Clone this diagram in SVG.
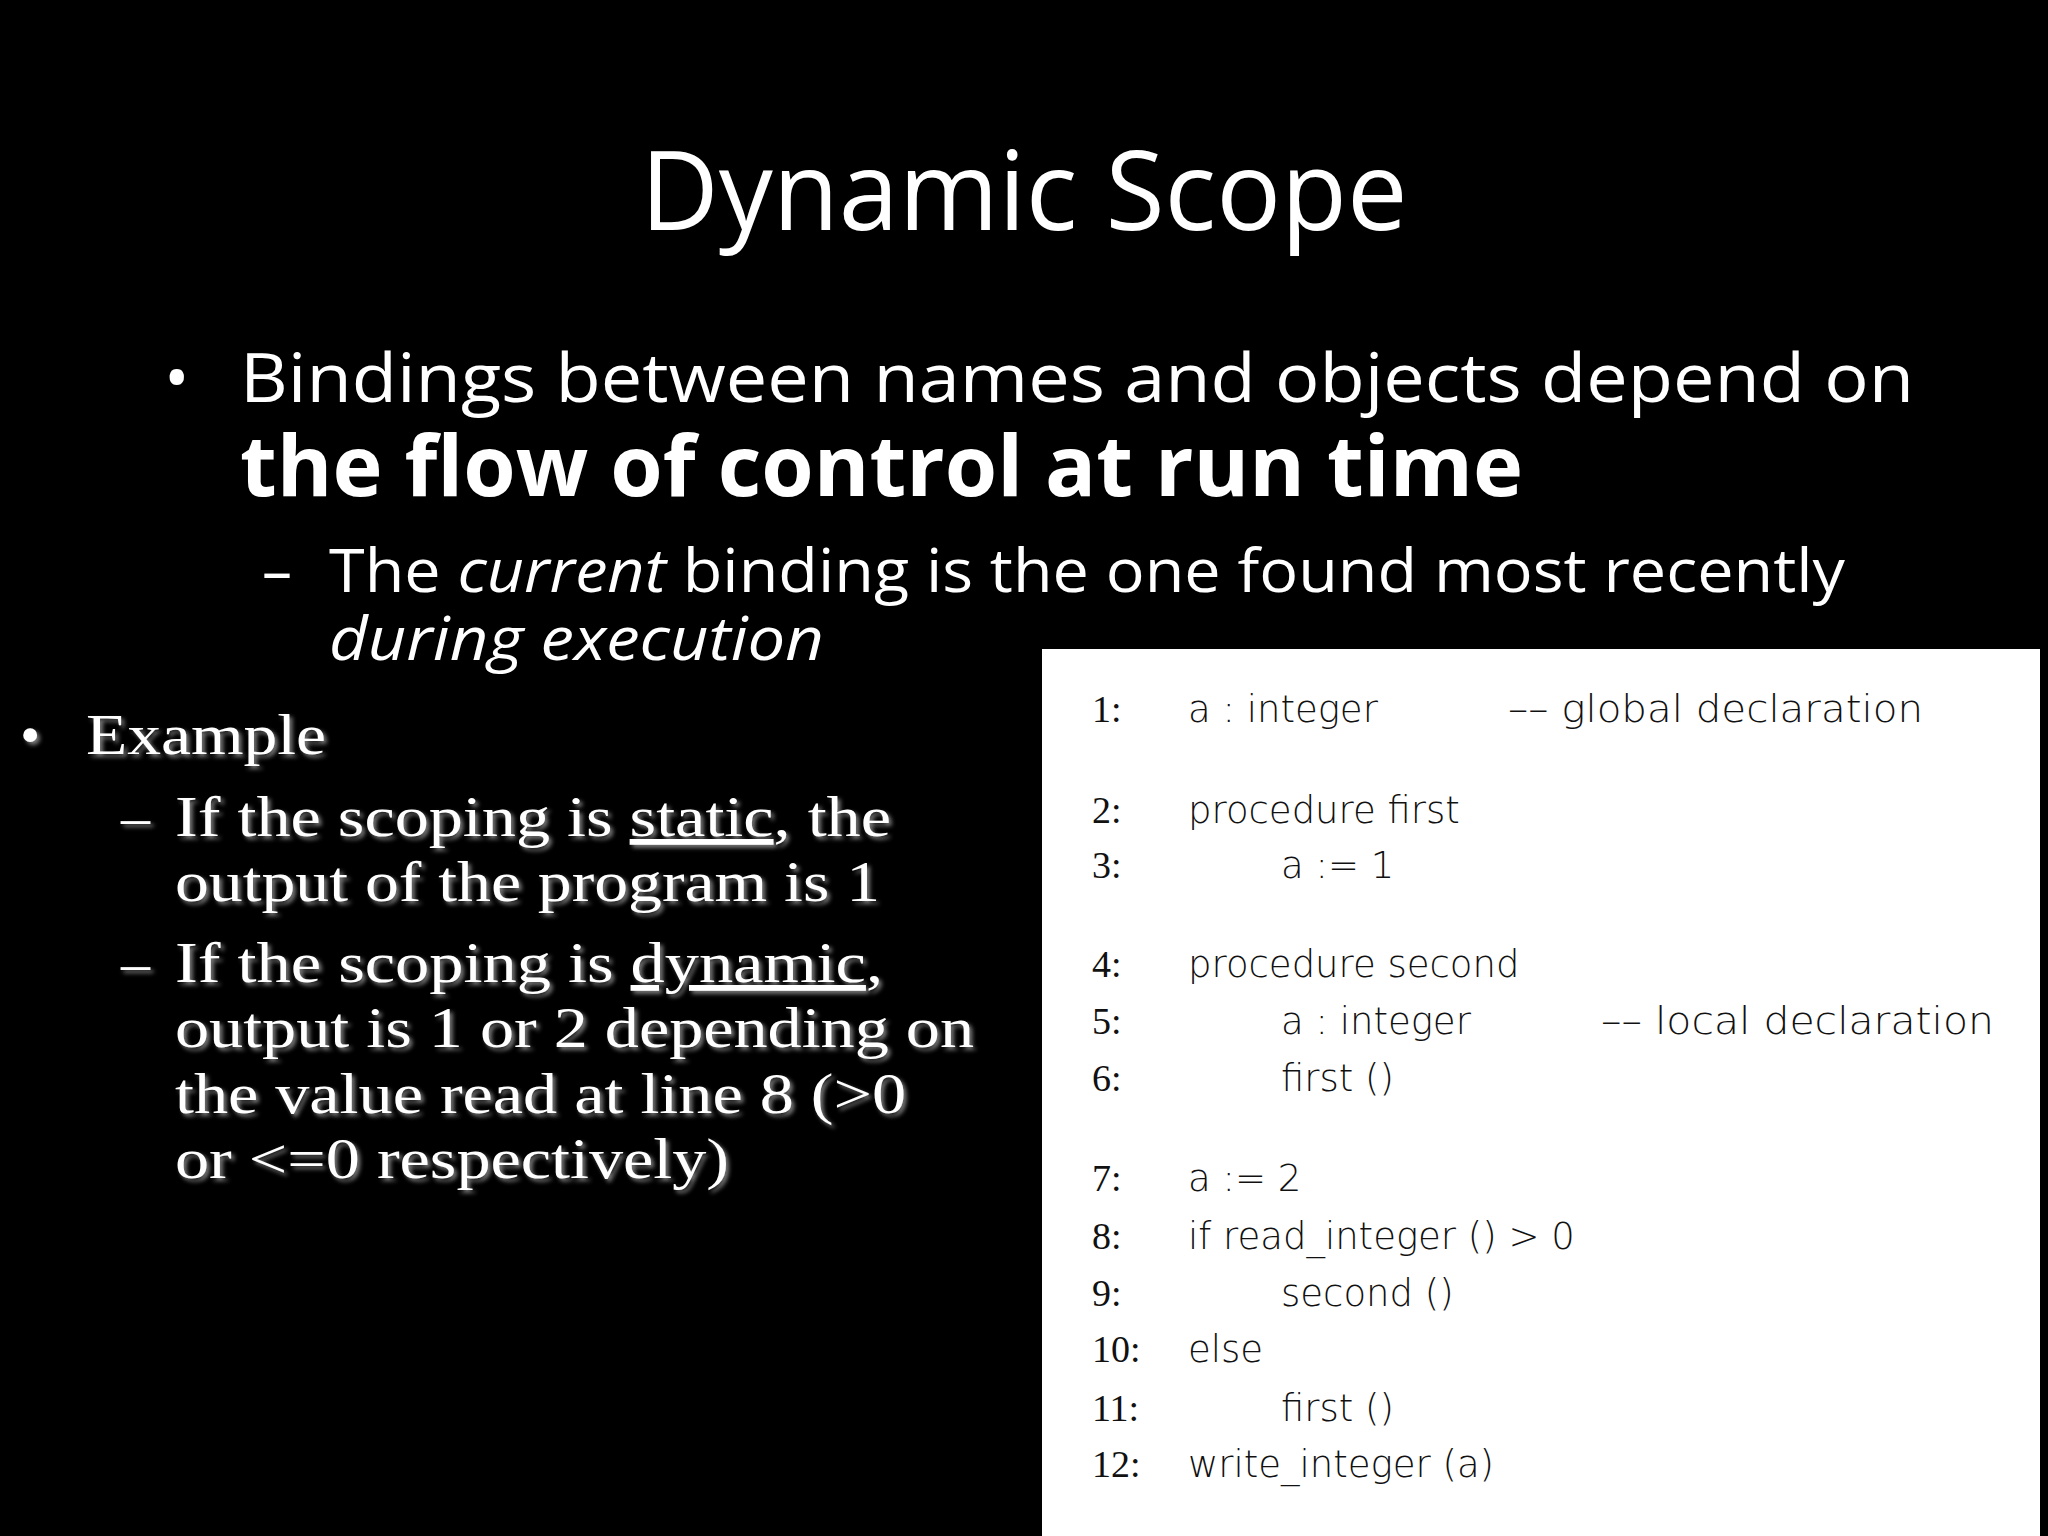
<svg xmlns="http://www.w3.org/2000/svg" width="2048" height="1536" viewBox="0 0 2048 1536">
<defs>
<filter id="sh" x="-5%" y="-20%" width="110%" height="140%"><feDropShadow dx="3" dy="3" stdDeviation="2" flood-color="#888" flood-opacity="0.9"/></filter>
</defs>
<style>
.s{font-family:"Open Sans","Liberation Sans",sans-serif;fill:#fff}
.r{font-family:"Liberation Serif",serif;fill:#fff;font-size:58px}
.n{font-family:"Liberation Serif",serif;font-size:38px;fill:#111}
.c{font-family:"DejaVu Sans","Liberation Sans",sans-serif;font-size:37px;fill:#111;font-weight:300}
</style>
<rect width="2048" height="1536" fill="#000"/>
<g id="title"><text class="s" x="1024" y="230" font-size="110" text-anchor="middle" textLength="767" lengthAdjust="spacingAndGlyphs">Dynamic Scope</text></g>
<g id="bullets">
<text class="s" x="164" y="402" font-size="68">•</text>
<text class="s" x="240" y="402" font-size="68" textLength="1674" lengthAdjust="spacingAndGlyphs">Bindings between names and objects depend on</text>
<text class="s" x="240" y="496" font-size="84" font-weight="bold" textLength="1283" lengthAdjust="spacingAndGlyphs">the flow of control at run time</text>
<text class="s" x="262" y="592" font-size="60">–</text>
<text class="s" x="329" y="592" font-size="60" textLength="1516" lengthAdjust="spacingAndGlyphs">The <tspan font-style="italic">current</tspan> binding is the one found most recently</text>
<text class="s" x="329" y="660" font-size="60" font-style="italic" textLength="495" lengthAdjust="spacingAndGlyphs">during execution</text>
</g>
<g id="example" filter="url(#sh)">
<text class="r" x="20" y="754">•</text>
<text class="r" x="86" y="754" textLength="240" lengthAdjust="spacingAndGlyphs">Example</text>
<text class="r" x="121" y="836">–</text>
<text class="r" x="175" y="836" textLength="716" lengthAdjust="spacingAndGlyphs">If the scoping is <tspan text-decoration="underline">static</tspan>, the</text>
<text class="r" x="175" y="901" textLength="705" lengthAdjust="spacingAndGlyphs">output of the program is 1</text>
<text class="r" x="121" y="982">–</text>
<text class="r" x="175" y="982" textLength="708" lengthAdjust="spacingAndGlyphs">If the scoping is <tspan text-decoration="underline">dynamic</tspan>,</text>
<text class="r" x="175" y="1047" textLength="799" lengthAdjust="spacingAndGlyphs">output is 1 or 2 depending on</text>
<text class="r" x="175" y="1113" textLength="731" lengthAdjust="spacingAndGlyphs">the value read at line 8 (&gt;0</text>
<text class="r" x="175" y="1178" textLength="554" lengthAdjust="spacingAndGlyphs">or &lt;=0 respectively)</text>
</g>
<g id="code">
<rect x="1042" y="649" width="998" height="887" fill="#fff"/>
<text class="n" x="1092" y="722">1:</text><text class="c" x="1188" y="722">a : integer</text><text class="c" x="1508" y="722" textLength="415" lengthAdjust="spacingAndGlyphs">–– global declaration</text>
<text class="n" x="1092" y="823">2:</text><text class="c" x="1188" y="823">procedure first</text>
<text class="n" x="1092" y="878">3:</text><text class="c" x="1281" y="878">a := 1</text>
<text class="n" x="1092" y="977">4:</text><text class="c" x="1188" y="977">procedure second</text>
<text class="n" x="1092" y="1034">5:</text><text class="c" x="1281" y="1034">a : integer</text><text class="c" x="1601" y="1034" textLength="393" lengthAdjust="spacingAndGlyphs">–– local declaration</text>
<text class="n" x="1092" y="1091">6:</text><text class="c" x="1281" y="1091">first ()</text>
<text class="n" x="1092" y="1191">7:</text><text class="c" x="1188" y="1191">a := 2</text>
<text class="n" x="1092" y="1249">8:</text><text class="c" x="1188" y="1249">if read_integer () &gt; 0</text>
<text class="n" x="1092" y="1306">9:</text><text class="c" x="1281" y="1306">second ()</text>
<text class="n" x="1092" y="1362">10:</text><text class="c" x="1188" y="1362">else</text>
<text class="n" x="1092" y="1421">11:</text><text class="c" x="1281" y="1421">first ()</text>
<text class="n" x="1092" y="1477">12:</text><text class="c" x="1188" y="1477">write_integer (a)</text>
</g>
</svg>
